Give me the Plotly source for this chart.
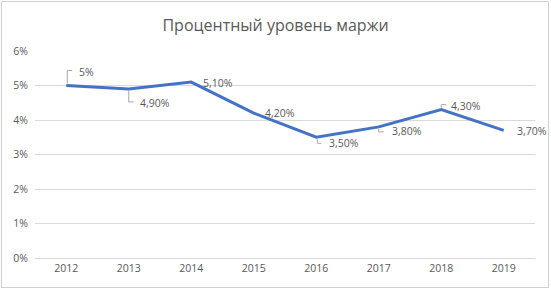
import plotly.graph_objects as go

years = ["2012", "2013", "2014", "2015", "2016", "2017", "2018", "2019"]
margin = [0.05, 0.049, 0.051, 0.042, 0.035, 0.038, 0.043, 0.037]
labels = ["5%", "4,90%", "5,10%", "4,20%", "3,50%", "3,80%", "4,30%", "3,70%"]
title = "Процентный уровень маржи"

FONT = "Open Sans"
GRAY = "#595959"
W, H = 551, 290
ML, MR, MT, MB = 35, 16, 51, 32
pw, ph = W - ML - MR, H - MT - MB
XR = (-0.5, len(years) - 0.5)
YR = (0, 0.06)
px_x = (XR[1] - XR[0]) / pw   # data units per pixel
px_y = (YR[1] - YR[0]) / ph

# label offsets in pixels (style only)
label_shift = [(11, 14), (9, -14), (10, -1), (9, 0), (11, -6), (11, -4), (8, 4), (11, -1)]
# elbow leader lines in pixel offsets from point: list of (dx, dy), dy up
leaders = {0: [(1, 2), (1, 15), (6, 15)], 1: [(0, -2), (0, -13), (5, -13)],
           4: [(1, -2), (1, -6), (5, -6)], 5: [(0, -2), (0, -5), (5, -5)],
           6: [(0, 2), (0, 5), (5, 5)]}

idx = list(range(len(years)))
fig = go.Figure()
fig.add_trace(go.Scatter(x=idx, y=margin, mode="lines",
                         line=dict(color="#4472C4", width=3), hoverinfo="skip"))

lx, ly = [], []
for i, pts in leaders.items():
    for dx, dy in pts:
        lx.append(idx[i] + dx * px_x)
        ly.append(margin[i] + dy * px_y)
    lx.append(None)
    ly.append(None)
fig.add_trace(go.Scatter(x=lx, y=ly, mode="lines", line=dict(color="#A6A6A6", width=1),
                         hoverinfo="skip"))

for i, (v, lab) in enumerate(zip(margin, labels)):
    dx, dy = label_shift[i]
    fig.add_annotation(x=idx[i], y=v, text=lab, showarrow=False, xanchor="left", yanchor="middle",
                       xshift=dx, yshift=dy, font=dict(family=FONT, size=10.5, color=GRAY))

# chart-area border (pixel box converted to paper coords)
bx0, bx1, by0, by1 = 1.5, W - 2.5, 1.5, H - 2.5
fig.add_shape(type="rect", xref="paper", yref="paper",
              x0=(bx0 - ML) / pw, x1=(bx1 - ML) / pw,
              y0=1 - (by1 - MT) / ph, y1=1 - (by0 - MT) / ph,
              line=dict(color="#D0D0D0", width=1))

fig.update_layout(
    width=W, height=H, margin=dict(l=ML, r=MR, t=MT, b=MB),
    paper_bgcolor="white", plot_bgcolor="white", showlegend=False,
    title=dict(text=title, x=0.5, xref="container", xanchor="center", y=1 - 25 / H, yanchor="middle",
               font=dict(family=FONT, size=16, color=GRAY)),
    xaxis=dict(range=list(XR), tickvals=idx, ticktext=years, showgrid=False, showline=True,
               linecolor="#D9D9D9", linewidth=1, ticks="", zeroline=False, fixedrange=True,
               tickfont=dict(family=FONT, size=10.5, color=GRAY)),
    yaxis=dict(range=list(YR), dtick=0.01, tickformat=".0%", showgrid=True,
               gridcolor="#D9D9D9", gridwidth=1, zeroline=False, ticks="",
               fixedrange=True, ticklabelstandoff=6,
               tickfont=dict(family=FONT, size=10.5, color=GRAY)),
)

fig.write_html("out.html", config={"displayModeBar": False},
               post_script="document.body.style.margin='0';")
